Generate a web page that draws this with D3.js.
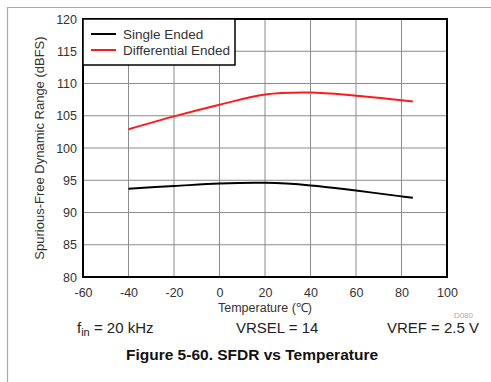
<!DOCTYPE html>
<html>
<head>
<meta charset="utf-8">
<script src="https://cdn.jsdelivr.net/npm/d3@7"></script>
<style>
  body { margin: 0; background: #fff; }
  svg { display: block; font-family: "Liberation Sans", Arial, sans-serif; }
</style>
</head>
<body>
<svg id="chart" width="491" height="382"></svg>
<script>
// Data
const temps = [-40, -20, 0, 20, 40, 60, 80, 85];
const singleEnded = [93.7, 94.1, 94.5, 94.6, 94.2, 93.4, 92.5, 92.3];
const differentialEnded = [102.9, 104.9, 106.7, 108.3, 108.6, 108.1, 107.4, 107.2];
const xTicks = [-60, -40, -20, 0, 20, 40, 60, 80, 100];
const yTicks = [80, 85, 90, 95, 100, 105, 110, 115, 120];
const seriesNames = ["Single Ended", "Differential Ended"];
const seriesColors = ["#000000", "#ff1a1a"];

const svg = d3.select("#chart");
const margin = { left: 83, top: 19, right: 44, bottom: 105 };
const W = 491, H = 382;
const fontFam = "Liberation Sans, Arial, sans-serif";

const x = d3.scaleLinear().domain([-60, 100]).range([margin.left, W - margin.right]);
const y = d3.scaleLinear().domain([80, 120]).range([H - margin.bottom, margin.top]);

// page frame (top and left rule)
svg.append("line").attr("x1", 7).attr("x2", W).attr("y1", 7.5).attr("y2", 7.5)
    .attr("stroke", "#aaa").attr("stroke-width", 1.2);
svg.append("line").attr("x1", 7.5).attr("x2", 7.5).attr("y1", 7).attr("y2", H)
    .attr("stroke", "#aaa").attr("stroke-width", 1.2);

// grid
svg.append("g")
    .selectAll("line")
    .data(xTicks.slice(1, -1))
    .join("line")
    .attr("x1", d => x(d)).attr("x2", d => x(d))
    .attr("y1", y(120)).attr("y2", y(80))
    .attr("stroke", "#8c8c8c").attr("stroke-width", 1);
svg.append("g")
    .selectAll("line")
    .data(yTicks.slice(1, -1))
    .join("line")
    .attr("x1", x(-60)).attr("x2", x(100))
    .attr("y1", d => y(d)).attr("y2", d => y(d))
    .attr("stroke", "#8c8c8c").attr("stroke-width", 1);

// axes labels (plain hyphen for negatives, like the original)
svg.append("g")
    .attr("transform", `translate(0,${y(80)})`)
    .call(d3.axisBottom(x).tickValues(xTicks).tickSize(0).tickPadding(11).tickFormat(d => String(d)))
    .call(g => g.select(".domain").remove())
    .call(g => g.selectAll("text").attr("font-size", 12.5).attr("fill", "#333").attr("font-family", fontFam));

svg.append("g")
    .attr("transform", `translate(${x(-60)},0)`)
    .call(d3.axisLeft(y).tickValues(yTicks).tickSize(0).tickPadding(6))
    .call(g => g.select(".domain").remove())
    .call(g => g.selectAll("text").attr("font-size", 12.5).attr("fill", "#333").attr("font-family", fontFam));

// plot border
svg.append("rect")
    .attr("x", x(-60)).attr("y", y(120))
    .attr("width", x(100) - x(-60)).attr("height", y(80) - y(120))
    .attr("fill", "none").attr("stroke", "#000").attr("stroke-width", 2);

// series
const line = d3.line()
    .x((d, i) => x(temps[i]))
    .y(d => y(d))
    .curve(d3.curveCatmullRom.alpha(0.5));

[singleEnded, differentialEnded].forEach((vals, k) => {
    svg.append("path")
        .attr("d", line(vals))
        .attr("fill", "none")
        .attr("stroke", seriesColors[k])
        .attr("stroke-width", 2);
});

// legend
const leg = svg.append("g");
leg.append("rect")
    .attr("x", x(-60)).attr("y", y(120))
    .attr("width", 152).attr("height", 46)
    .attr("fill", "#fff").attr("stroke", "#000").attr("stroke-width", 1.5);
seriesNames.forEach((name, k) => {
    const ly = 34 + k * 16;
    leg.append("line")
        .attr("x1", 91).attr("x2", 116).attr("y1", ly).attr("y2", ly)
        .attr("stroke", seriesColors[k]).attr("stroke-width", 2);
    leg.append("text")
        .attr("x", 123).attr("y", ly + 4.5)
        .attr("font-size", 13.5).attr("fill", "#333")
        .text(name);
});

// axis titles
svg.append("text")
    .attr("x", (x(-60) + x(100)) / 2).attr("y", 311.5)
    .attr("text-anchor", "middle").attr("font-size", 12.5).attr("fill", "#333")
    .text("Temperature (\u2103)");

svg.append("text")
    .attr("transform", `translate(44,${(y(80) + y(120)) / 2}) rotate(-90)`)
    .attr("text-anchor", "middle").attr("font-size", 13).attr("fill", "#333")
    .text("Spurious-Free Dynamic Range (dBFS)");

svg.append("text")
    .attr("x", 473).attr("y", 318)
    .attr("text-anchor", "end").attr("font-size", 8).attr("fill", "#aaa")
    .text("D080");

// conditions row
const cond = svg.append("g").attr("font-size", 15).attr("fill", "#222");
const f = cond.append("text").attr("x", 77).attr("y", 333);
f.append("tspan").text("f");
f.append("tspan").attr("font-size", 11).attr("dy", 3).text("in");
f.append("tspan").attr("dy", -3).text(" = 20 kHz");
cond.append("text").attr("x", 236).attr("y", 333).text("VRSEL = 14");
cond.append("text").attr("x", 479).attr("y", 333).attr("text-anchor", "end").text("VREF = 2.5 V");

// caption
svg.append("text")
    .attr("x", 252).attr("y", 360)
    .attr("text-anchor", "middle").attr("font-size", 15.5).attr("font-weight", "bold")
    .attr("fill", "#111")
    .text("Figure 5-60. SFDR vs Temperature");
</script>
</body>
</html>
